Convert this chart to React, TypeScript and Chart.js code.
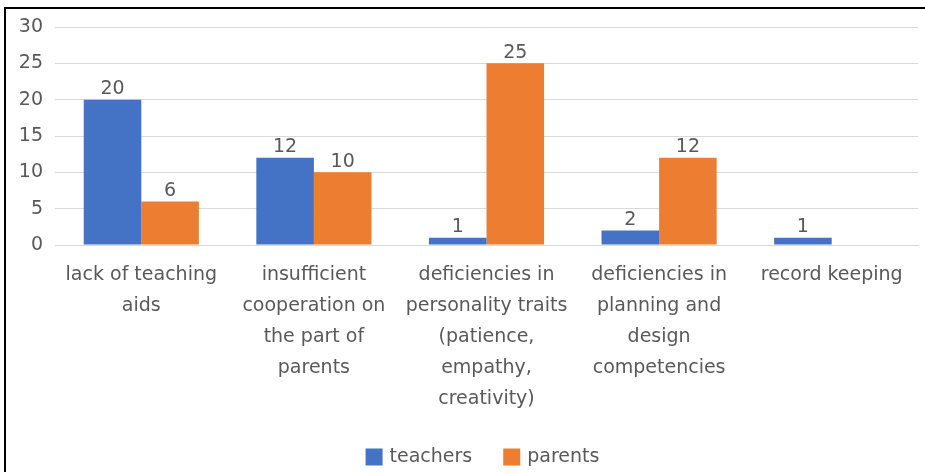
import React, { useEffect, useRef } from "react";
import { Chart, registerables } from "chart.js";

Chart.register(...registerables);

const categories: string[][] = [
  ["lack of teaching", "aids"],
  ["insufficient", "cooperation on", "the part of", "parents"],
  ["deficiencies in", "personality traits", "(patience,", "empathy,", "creativity)"],
  ["deficiencies in", "planning and", "design", "competencies"],
  ["record keeping"],
];
const teachers: (number | null)[] = [20, 12, 1, 2, 1];
const parents: (number | null)[] = [6, 10, 25, 12, null];
const yTicks = [0, 5, 10, 15, 20, 25, 30];

const FONT = "'DejaVu Sans', sans-serif";
const TEXT = "#595959";
const SIZE = 19;

const valueLabels = {
  id: "valueLabels",
  afterDatasetsDraw(chart: any) {
    const ctx = chart.ctx;
    ctx.save();
    ctx.font = `${SIZE}px ${FONT}`;
    ctx.fillStyle = TEXT;
    ctx.textAlign = "center";
    ctx.textBaseline = "bottom";
    chart.data.datasets.forEach((ds: any, i: number) => {
      const meta = chart.getDatasetMeta(i);
      meta.data.forEach((bar: any, j: number) => {
        const v = ds.data[j];
        if (v === null || v === undefined) return;
        ctx.fillText(String(v), bar.x, bar.y - 1);
      });
    });
    ctx.restore();
  },
};

const bottomLegend = {
  id: "bottomLegend",
  afterDraw(chart: any) {
    const ctx = chart.ctx;
    const box = 17;
    const gapBoxText = 7;
    const gapItems = 31;
    ctx.save();
    ctx.font = `${SIZE}px ${FONT}`;
    const items = chart.data.datasets.map((ds: any) => ({
      label: ds.label as string,
      color: ds.backgroundColor as string,
      w: ctx.measureText(ds.label).width,
    }));
    const total =
      items.reduce((a: number, it: any) => a + box + gapBoxText + it.w, 0) +
      gapItems * (items.length - 1);
    const cx = (chart.chartArea.left + chart.chartArea.right) / 2 - 4;
    const cy = 457;
    let x = cx - total / 2;
    ctx.textBaseline = "middle";
    ctx.textAlign = "left";
    items.forEach((it: any) => {
      ctx.fillStyle = it.color;
      ctx.fillRect(x, cy - box / 2, box, box);
      x += box + gapBoxText;
      ctx.fillStyle = TEXT;
      ctx.fillText(it.label, x, cy);
      x += it.w + gapItems;
    });
    ctx.restore();
  },
};

export default function App() {
  const ref = useRef<HTMLCanvasElement>(null);
  useEffect(() => {
    if (!ref.current) return;
    const chart = new Chart(ref.current, {
      type: "bar",
      data: {
        labels: categories,
        datasets: [
          { label: "teachers", data: teachers, backgroundColor: "#4472C4" },
          { label: "parents", data: parents, backgroundColor: "#ED7D31" },
        ],
      },
      options: {
        animation: false,
        responsive: false,
        maintainAspectRatio: false,
        layout: { padding: { top: 27, right: 7, left: 0, bottom: 40 } },
        datasets: { bar: { categoryPercentage: 0.667, barPercentage: 1.0 } },
        scales: {
          x: {
            grid: { display: false },
            border: { display: true, color: "#d9d9d9", width: 1 },
            afterFit: (s: any) => {
              s.height = 187;
            },
            ticks: {
              color: TEXT,
              font: { family: FONT, size: SIZE, lineHeight: 1.63 },
              maxRotation: 0,
              autoSkip: false,
              padding: 7,
            },
          },
          y: {
            min: 0,
            max: 30,
            afterBuildTicks: (s: any) => {
              s.ticks = yTicks.map((v) => ({ value: v }));
            },
            afterFit: (s: any) => {
              s.width = 55;
            },
            grid: { color: "#d9d9d9", lineWidth: 1, drawTicks: false },
            border: { display: false },
            ticks: {
              color: TEXT,
              font: { family: FONT, size: SIZE },
              padding: 12,
            },
          },
        },
        plugins: {
          legend: { display: false },
          tooltip: { enabled: false },
        },
      },
      plugins: [valueLabels, bottomLegend],
    });
    return () => chart.destroy();
  }, []);

  return (
    <div style={{ position: "fixed", left: 0, top: 0, width: 925, height: 472, background: "#fff" }}>
      <canvas ref={ref} width={925} height={472} style={{ position: "absolute", left: 0, top: 0 }} />
      <div
        style={{
          position: "absolute",
          left: 4,
          top: 7,
          width: 921,
          height: 465,
          borderLeft: "2px solid #000",
          borderTop: "2px solid #000",
          boxSizing: "border-box",
          pointerEvents: "none",
        }}
      />
    </div>
  );
}
